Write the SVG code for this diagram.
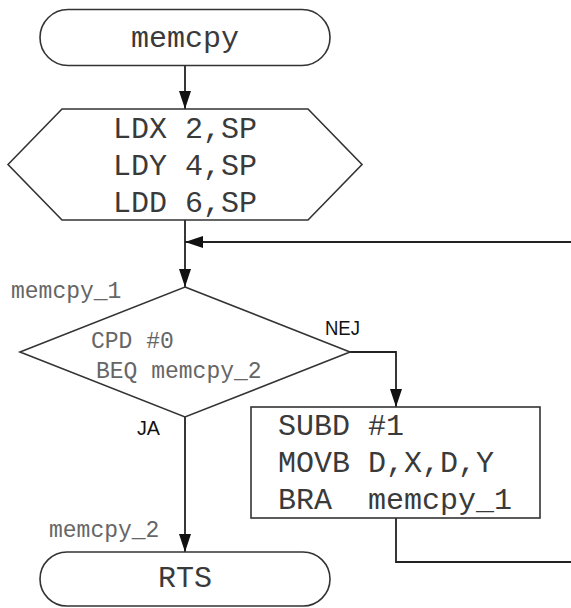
<svg xmlns="http://www.w3.org/2000/svg" width="571" height="608" viewBox="0 0 571 608">
<style>
.shape{fill:#fff;stroke:#333;stroke-width:1.6}
.conn{fill:none;stroke:#222;stroke-width:1.8}
.big{font-family:"Liberation Mono","Courier New",monospace;font-size:30px;fill:#3a3a3a;white-space:pre}
.small{font-family:"Liberation Mono","Courier New",monospace;font-size:23px;fill:#666;white-space:pre}
.lab{font-family:"Liberation Sans",Arial,sans-serif;font-size:21px;fill:#111}
</style>
<defs>
<marker id="ah" viewBox="0 0 18 12" refX="18" refY="6" markerWidth="18" markerHeight="12" markerUnits="userSpaceOnUse" orient="auto">
<path d="M0,0 L18,6 L0,12 Z" fill="#111"/>
</marker>
</defs>
<rect width="571" height="608" fill="#fff"/>
<g id="connectors">
<line class="conn" x1="185" y1="66" x2="185" y2="109" marker-end="url(#ah)"/>
<line class="conn" x1="185" y1="220" x2="185" y2="287" marker-end="url(#ah)"/>
<line class="conn" x1="571" y1="242" x2="185" y2="242" marker-end="url(#ah)"/>
<polyline class="conn" points="350,352 396,352 396,407" marker-end="url(#ah)"/>
<line class="conn" x1="185" y1="417" x2="185" y2="552" marker-end="url(#ah)"/>
<polyline class="conn" points="396,518 396,562 571,562"/>
<text class="lab" x="325" y="335" textLength="35" lengthAdjust="spacingAndGlyphs">NEJ</text>
<text class="lab" x="137" y="435" textLength="23" lengthAdjust="spacingAndGlyphs">JA</text>
</g>
<g id="start">
<rect class="shape" x="40" y="9.5" width="290" height="56" rx="28"/>
<text class="big" x="185" y="47" text-anchor="middle">memcpy</text>
</g>
<g id="load">
<polygon class="shape" points="8,164.5 62,109 308,109 362,164.5 308,220 62,220"/>
<text class="big" x="185" y="138" text-anchor="middle">LDX 2,SP</text>
<text class="big" x="185" y="175" text-anchor="middle">LDY 4,SP</text>
<text class="big" x="185" y="212" text-anchor="middle">LDD 6,SP</text>
</g>
<g id="decision">
<polygon class="shape" points="185,287 350,352 185,417 20,352"/>
<text class="small" x="11" y="298">memcpy_1</text>
<text class="small" x="91" y="348">CPD #0</text>
<text class="small" x="96" y="378">BEQ memcpy_2</text>
</g>
<g id="process">
<rect class="shape" x="251" y="407" width="289" height="111"/>
<text class="big" x="278" y="435">SUBD #1</text>
<text class="big" x="278" y="472">MOVB D,X,D,Y</text>
<text class="big" x="278" y="509">BRA  memcpy_1</text>
</g>
<g id="end">
<rect class="shape" x="40" y="552" width="290" height="54" rx="27"/>
<text class="small" x="49" y="537">memcpy_2</text>
<text class="big" x="185" y="587" text-anchor="middle">RTS</text>
</g>
</svg>
